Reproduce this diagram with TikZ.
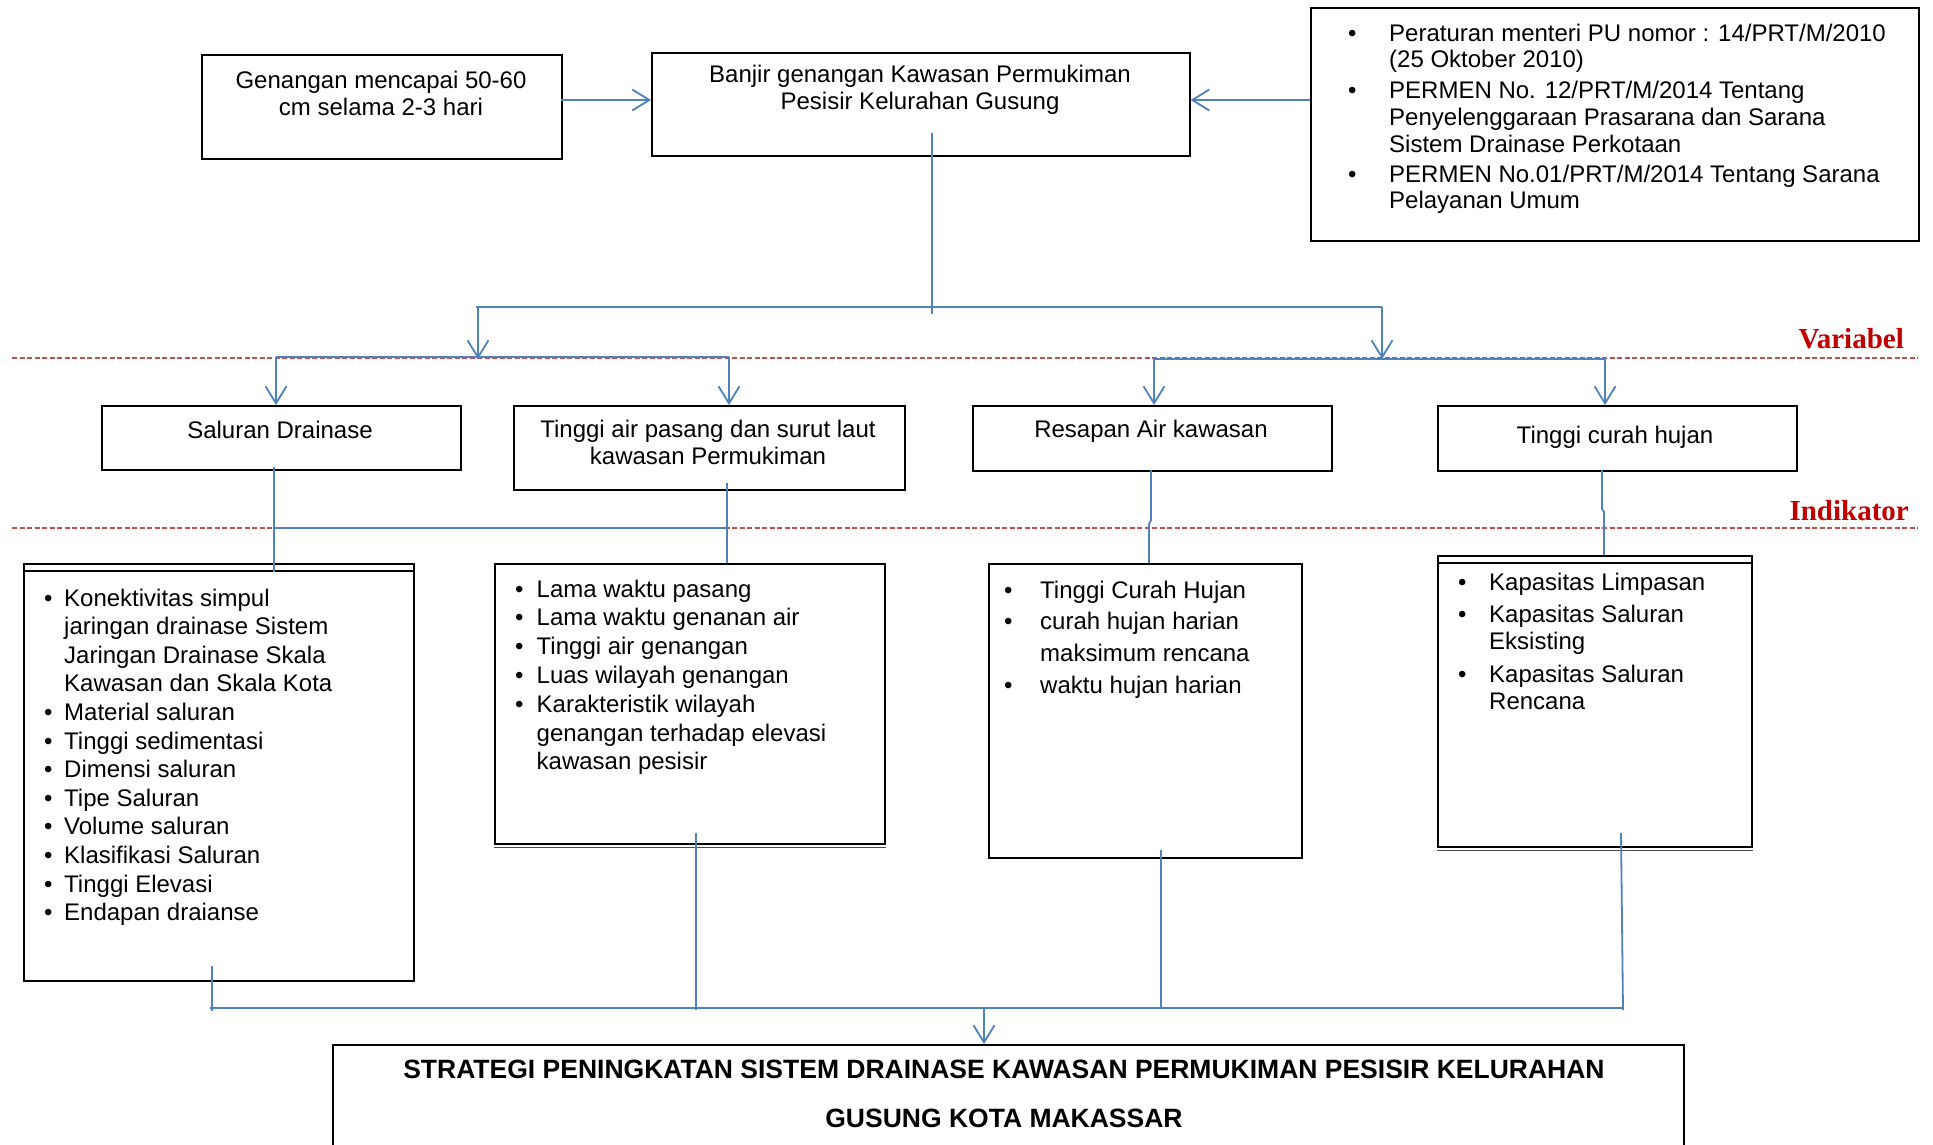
\documentclass[tikz,border=0pt]{standalone}
\usepackage{fontspec}
\setmainfont{Liberation Sans}
\newfontfamily\varfont{Liberation Serif}
\usetikzlibrary{arrows.meta}
\definecolor{cblue}{RGB}{79,129,189}
\definecolor{cred}{RGB}{192,80,77}
\definecolor{dred}{RGB}{192,0,0}
\newcommand\myfs[2]{\fontsize{#1}{#2}\selectfont}
\newcommand\bl[1]{\makebox[#1][l]{\textbullet}}
\begin{document}
\begin{tikzpicture}[x=1pt,y=-1pt,
  box/.style={draw=black,line width=1.6pt,anchor=north west,inner sep=0pt,rectangle},
  txt/.style={inner sep=0pt,font=\myfs{24}{27.5}},
  conn/.style={draw=cblue,line width=1.8pt},
  arr/.style={conn,-{Straight Barb[length=17pt,width=21pt]}},
  sepline/.style={draw=cred,line width=1.5pt,dash pattern=on 5pt off 2.5pt},
  lab/.style={inner sep=0pt,text=dred,font=\myfs{29}{32}\varfont\bfseries,anchor=base east}
]
\useasboundingbox (0,0) rectangle (1933,1144);
\clip (0,0) rectangle (1933,1144);
\fill[white] (0,0) rectangle (1933,1144);

% separators
\coordinate (v1) at (12,358); \coordinate (v2) at (1918,358);
\coordinate (i1) at (12,528); \coordinate (i2) at (1918,528);
\draw[sepline] (v1) -- (v2);
\draw[sepline] (i1) -- (i2);
\node[lab] (var) at (1904,348) {Variabel};
\node[lab] (ind) at (1909,520) {Indikator};

% boxes
\node[box,minimum width=360pt,minimum height=104pt] (gen) at (201,54) {};
\node[box,minimum width=538pt,minimum height=103pt] (banjir) at (651,52) {};
\node[box,minimum width=608pt,minimum height=233pt] (perm) at (1310,7) {};
\node[box,minimum width=359pt,minimum height=64pt] (sal) at (101,405) {};
\node[box,minimum width=391pt,minimum height=84pt] (tap) at (513,405) {};
\node[box,minimum width=359pt,minimum height=65pt] (res) at (972,405) {};
\node[box,minimum width=359pt,minimum height=65pt] (tch) at (1437,405) {};
\node[box,minimum width=390pt,minimum height=417pt] (ia) at (23,563) {};
\node[box,minimum width=390pt,minimum height=280pt] (ib) at (494,563) {};
\node[box,minimum width=313pt,minimum height=294pt] (ic) at (988,563) {};
\node[box,minimum width=314pt,minimum height=291pt] (id) at (1437,555) {};
\node[box,minimum width=1351pt,minimum height=140pt] (strat) at (332,1044) {};

% double rules
\draw[line width=1.2pt] ([yshift=-8pt]ia.north west) -- ([yshift=-8pt]ia.north east);
\draw[line width=1.2pt,black!70] ([yshift=-3.2pt]ib.south west) -- ([yshift=-3.2pt]ib.south east);
\draw[line width=1.2pt] ([yshift=-8pt]id.north west) -- ([yshift=-8pt]id.north east);
\draw[line width=1.2pt,black!70] ([yshift=-3.2pt]id.south west) -- ([yshift=-3.2pt]id.south east);

% texts
\node[txt,anchor=base] (tgen) at (381,88) {\begin{tabular}[t]{@{}c@{}}Genangan mencapai 50-60\\cm selama 2-3 hari\end{tabular}};
\node[txt,anchor=base] (tban) at (920,82) {\begin{tabular}[t]{@{}c@{}}Banjir genangan Kawasan Permukiman\\Pesisir Kelurahan Gusung\end{tabular}};
\node[txt,anchor=base west,font=\myfs{24}{26.8}] (tperm) at (1348,41) {\begin{tabular}[t]{@{}l@{}l@{}}
\bl{41pt}&Peraturan menteri PU nomor : 14/PRT/M/2010\\
&(25 Oktober 2010)\\[4pt]
\bl{41pt}&PERMEN No. 12/PRT/M/2014 Tentang\\
&Penyelenggaraan Prasarana dan Sarana\\
&Sistem Drainase Perkotaan\\[3pt]
\bl{41pt}&PERMEN No.01/PRT/M/2014 Tentang Sarana\\
&Pelayanan Umum
\end{tabular}};

\node[txt,anchor=base] (tsal) at (280,438) {Saluran Drainase};
\node[txt,anchor=base,font=\myfs{24}{27}] (ttap) at (708,437) {\begin{tabular}[t]{@{}c@{}}Tinggi air pasang dan surut laut\\kawasan Permukiman\end{tabular}};
\node[txt,anchor=base] (tres) at (1151,437) {Resapan Air kawasan};
\node[txt,anchor=base] (ttch) at (1615,443) {Tinggi curah hujan};

\node[txt,anchor=base west,font=\myfs{24}{28.6}] (tia) at (44,606) {\begin{tabular}[t]{@{}l@{}l@{}}
\bl{20pt}&Konektivitas simpul\\
&jaringan drainase Sistem\\
&Jaringan Drainase Skala\\
&Kawasan dan Skala Kota\\
\bl{20pt}&Material saluran\\
\bl{20pt}&Tinggi sedimentasi\\
\bl{20pt}&Dimensi saluran\\
\bl{20pt}&Tipe Saluran\\
\bl{20pt}&Volume saluran\\
\bl{20pt}&Klasifikasi Saluran\\
\bl{20pt}&Tinggi Elevasi\\
\bl{20pt}&Endapan draianse
\end{tabular}};

\node[txt,anchor=base west,font=\myfs{24}{28.8}] (tib) at (515,597) {\begin{tabular}[t]{@{}l@{}l@{}}
\bl{21.5pt}&Lama waktu pasang\\
\bl{21.5pt}&Lama waktu genanan air\\
\bl{21.5pt}&Tinggi air genangan\\
\bl{21.5pt}&Luas wilayah genangan\\
\bl{21.5pt}&Karakteristik wilayah\\
&genangan terhadap elevasi\\
&kawasan pesisir
\end{tabular}};

\node[txt,anchor=base west,font=\myfs{24}{31.7}] (tic) at (1004,598) {\begin{tabular}[t]{@{}l@{}l@{}}
\bl{36pt}&Tinggi Curah Hujan\\
\bl{36pt}&curah hujan harian\\
&maksimum rencana\\
\bl{36pt}&waktu hujan harian
\end{tabular}};

\node[txt,anchor=base west,font=\myfs{24}{27}] (tid) at (1458,590) {\begin{tabular}[t]{@{}l@{}l@{}}
\bl{31pt}&Kapasitas Limpasan\\[5pt]
\bl{31pt}&Kapasitas Saluran\\
&Eksisting\\[6pt]
\bl{31pt}&Kapasitas Saluran\\
&Rencana
\end{tabular}};

\node[inner sep=0pt,anchor=base,font=\myfs{26.5}{49.5}\bfseries] (tstrat) at (1004,1078) {\begin{tabular}[t]{@{}c@{}}STRATEGI PENINGKATAN SISTEM DRAINASE KAWASAN PERMUKIMAN PESISIR KELURAHAN\\GUSUNG KOTA MAKASSAR\end{tabular}};

% top connectors
\coordinate (ga) at (561,100);
\draw[arr] (ga) -- (ga -| banjir.west);
\coordinate (pa) at (1310,100);
\draw[arr] (pa) -- (pa -| banjir.east);
\coordinate (c0) at (932,133); \coordinate (c1) at (932,314);
\draw[conn] (c0) -- (c1);
\coordinate (hL) at (476,307); \coordinate (hR) at (1382,307);
\draw[conn] (hL) -- (hR);
\coordinate (a1) at (478,307); \coordinate (a1e) at (478,359);
\draw[arr] (a1) -- (a1e);
\coordinate (a2) at (1382,307); \coordinate (a2e) at (1382,359);
\draw[arr] (a2) -- (a2e);
\coordinate (sL) at (276,357); \coordinate (sR) at (729,357);
\draw[conn] (sL) -- (sR);
\draw[arr] (sL) -- (sL |- sal.north);
\draw[arr] (sR) -- (sR |- tap.north);
\coordinate (rL) at (1154,359); \coordinate (rR) at (1605,359);
\draw[conn] (rL) -- (rR);
\draw[arr] (rL) -- (rL |- res.north);
\draw[arr] (rR) -- (rR |- tch.north);

% variable to indicator
\coordinate (d1) at (274,467); \coordinate (d1e) at (274,572);
\draw[conn] (d1) -- (d1e);
\coordinate (m1) at (274,528); \coordinate (m2) at (727,528);
\draw[conn] (m1) -- (m2);
\coordinate (d2) at (727,483);
\draw[conn] (d2) -- (d2 |- ib.north);
\coordinate (d3) at (1151,470); \coordinate (d3m) at (1151,520); \coordinate (d3n) at (1149,524);
\draw[conn] (d3) -- (d3m) -- (d3n) -- (d3n |- ic.north);
\coordinate (d4) at (1602,470); \coordinate (d4m) at (1602,509); \coordinate (d4n) at (1604,512);
\draw[conn] (d4) -- (d4m) -- (d4n) -- (d4n |- id.north);

% indicator to strategy
\coordinate (b1) at (212,966); \coordinate (b1e) at (212,1011);
\draw[conn] (b1) -- (b1e);
\coordinate (b2) at (696,833); \coordinate (b2e) at (696,1010);
\draw[conn] (b2) -- (b2e);
\coordinate (b3) at (1161,850); \coordinate (b3e) at (1161,1008);
\draw[conn] (b3) -- (b3e);
\coordinate (b4) at (1621,833); \coordinate (b4e) at (1623,1010);
\draw[conn] (b4) -- (b4e);
\coordinate (bh1) at (210,1008); \coordinate (bh2) at (1623,1008);
\draw[conn] (bh1) -- (bh2);
\coordinate (ba) at (984,1008);
\draw[arr] (ba) -- (ba |- strat.north);
\end{tikzpicture}
\end{document}
